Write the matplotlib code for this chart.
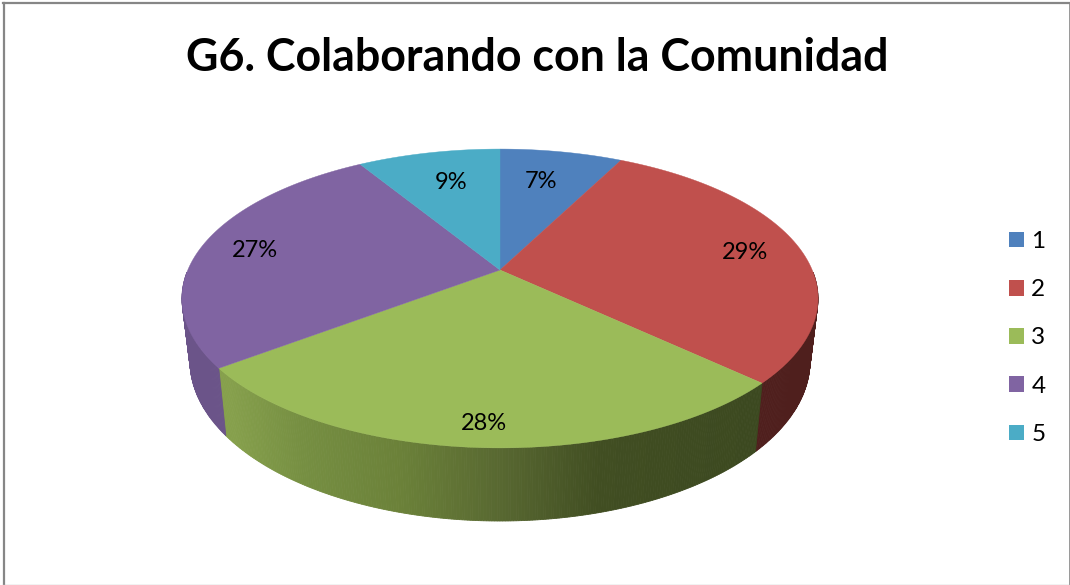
import numpy as np
import matplotlib.pyplot as plt
from matplotlib.colors import to_rgb
from matplotlib.patches import Patch, Polygon

plt.rcParams['font.family'] = ['Lato', 'DejaVu Sans']

# --- datos ---
categorias = ['1', '2', '3', '4', '5']
valores = [7.49, 29.49, 27.7, 26.6, 8.72]
colores = ['#4F81BD', '#C0504D', '#9BBB59', '#8064A2', '#4BACC6']
titulo = 'G6. Colaborando con la Comunidad'

# --- geometria del pastel (pixeles) ---
CX, APEX_Y = 500, 270
TOP_CY, TOP_RX, TOP_RY = 298.5, 318, 149.5
LOW_CY, LOW_RX, LOW_RY = 361, 310, 160
# perspectiva del disco
K, B, A = 0.1906, 144, 312.2
# radio relativo donde cae cada etiqueta y ajuste horizontal
label_r = [0.73, 0.80, 0.88, 0.81, 0.73]
label_dx = [-6, 5, 1, -4, 5]


def disco(x, y):
    # punto del disco unidad -> pantalla
    d = 1 + K * y
    return CX + A * x / d, APEX_Y - B * y / d


def param_elipse(ang):
    # angulo real del disco -> parametro sobre la elipse de pantalla
    px, py = disco(np.sin(ang), np.cos(ang))
    return np.arctan2((px - CX) / TOP_RX, (TOP_CY - py) / TOP_RY) % (2 * np.pi)


def arriba(t):
    return CX + TOP_RX * np.sin(t), TOP_CY - TOP_RY * np.cos(t)


def abajo(t):
    return CX + LOW_RX * np.sin(t), LOW_CY - LOW_RY * np.cos(t)


# color de la pared lateral segun x
pared_x = [228, 300, 400, 500, 600, 755]
pared_verde = ['#86A04C', '#768F42', '#6B8139', '#586831', '#414E22', '#3C4920']
pared_rgb = np.array([to_rgb(c) for c in pared_verde])


def color_pared(i, x):
    if i == 2:
        return [np.interp(x, pared_x, pared_rgb[:, k]) for k in range(3)]
    if i == 1:
        return '#4F1F1D'
    if i == 3:
        return '#6B5489'
    return colores[i]


fig = plt.figure(figsize=(10.7, 5.85), dpi=100)
ax = fig.add_axes([0, 0, 1, 1])
ax.set_xlim(0, 1070)
ax.set_ylim(585, 0)
ax.axis('off')

# marco
ax.plot([4, 4], [3, 585], color='#868686', lw=1.6)
ax.plot([3, 1070], [3, 3], color='#868686', lw=1.6)
ax.plot([1069.5, 1069.5], [3, 585], color='#868686', lw=1.2)
ax.plot([3, 1070], [584.5, 584.5], color='#BDBDBD', lw=1)

ax.text(537, 71, titulo, fontsize=32.2, fontweight='bold', ha='center', va='baseline')

fracs = np.array(valores) / sum(valores)
bordes = np.concatenate([[0], np.cumsum(fracs)]) * 2 * np.pi

# paredes: solo la parte frontal
for i in range(len(valores)):
    t0, t1 = param_elipse(bordes[i]), param_elipse(bordes[i + 1] - 1e-6)
    if t1 < t0:
        t1 += 2 * np.pi
    ts = np.arange(t0, t1, np.radians(0.5))
    for a, b in zip(ts, np.append(ts[1:], t1)):
        if a > np.radians(280) or b < np.radians(80):
            continue
        xa, ya = arriba(a)
        xb, yb = arriba(b)
        xc, yc = abajo(b)
        xd, yd = abajo(a)
        c = color_pared(i, (xa + xb) / 2)
        ax.add_patch(Polygon([(xa, ya), (xb, yb), (xc, yc), (xd, yd)], facecolor=c, edgecolor=c, lw=0.6))

# tapa superior
for i in range(len(valores)):
    angs = np.linspace(bordes[i], bordes[i + 1], 80)
    px, py = disco(np.sin(angs), np.cos(angs))
    pts = [(CX, APEX_Y)] + list(zip(px, py))
    ax.add_patch(Polygon(pts, facecolor=colores[i], edgecolor=colores[i], lw=0.3))

# etiquetas de porcentaje
for i, v in enumerate(valores):
    m = (bordes[i] + bordes[i + 1]) / 2
    lx, ly = disco(label_r[i] * np.sin(m), label_r[i] * np.cos(m))
    ax.text(lx + label_dx[i], ly + 1.5, f'{round(v)}%', fontsize=17, ha='center', va='center', color='black')

# leyenda
handles = [Patch(facecolor=c, edgecolor='none') for c in colores]
ax.legend(handles, categorias, loc='center left', bbox_to_anchor=(1009 / 1070, 1 - 338 / 585), frameon=False,
          fontsize=17.5, handlelength=0.62, handleheight=0.62, handletextpad=0.3, labelspacing=1.12, borderpad=0,
          borderaxespad=0)

fig.savefig('out.png', dpi=100)
